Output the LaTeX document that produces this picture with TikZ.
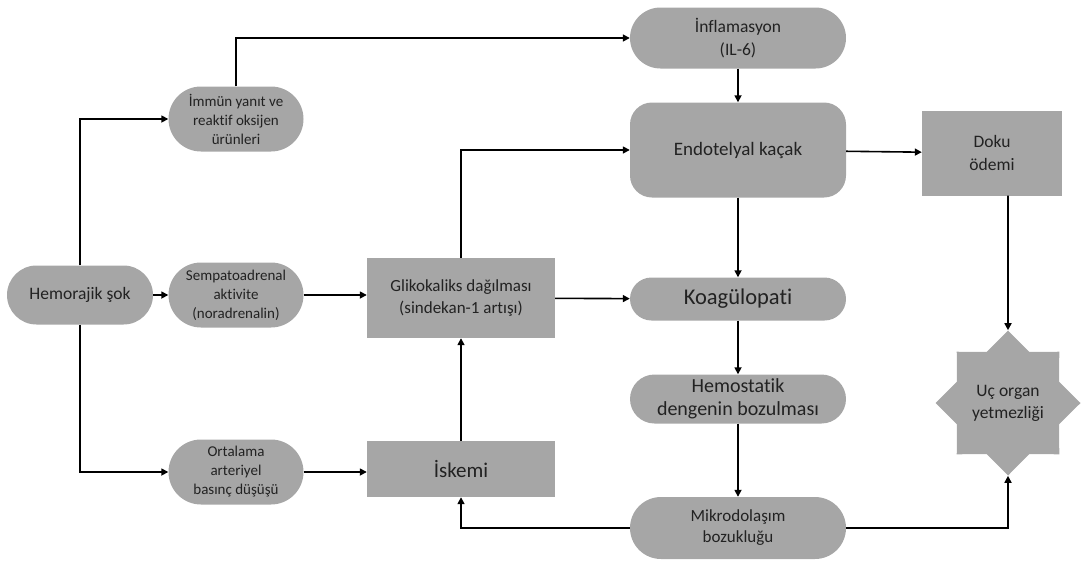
\documentclass[tikz,border=0pt]{standalone}
\usepackage{fontspec}
\setmainfont{Carlito}[Ligatures=NoCommon]
\usetikzlibrary{arrows.meta,shapes.geometric}
\definecolor{boxgray}{HTML}{A6A6A6}
\definecolor{txtgray}{HTML}{222222}
\begin{document}
\begin{tikzpicture}[x=1pt,y=-1pt,
 box/.style={fill=boxgray,text=txtgray,align=center,inner sep=0pt},
 pill/.style={box,rounded corners=#1pt,minimum height=2*#1pt},
 sml/.style={font=\fontsize{15}{19}\selectfont},
 med/.style={font=\fontsize{17.5}{23}\selectfont},
 big/.style={font=\fontsize{21}{25}\selectfont},
 arr/.style={line width=1.6pt,-{Triangle[length=7pt,width=7pt]}}]
\useasboundingbox(0,0)rectangle(1082,563);
\node[pill=29.5,minimum width=146pt,med](hemo)at(80,295){Hemorajik şok};
\node[pill=32.5,minimum width=135pt,sml](immun)at(236,119){İmmün yanıt ve\\reaktif oksijen\\ürünleri};
\node[pill=32.5,minimum width=135pt,sml](sempa)at(236,295){Sempatoadrenal\\aktivite\\(noradrenalin)};
\node[pill=32.5,minimum width=135pt,sml](ortal)at(236,472){Ortalama\\arteriyel\\basınç düşüşü};
\node[box,minimum width=188pt,minimum height=80pt,med,font=\fontsize{17}{22}\selectfont](gliko)at(461,298){Glikokaliks dağılması\\(sindekan-1 artışı)};
\node[box,minimum width=188pt,minimum height=56pt,big](iskemi)at(461,469){İskemi};
\node[pill=30.5,minimum width=216pt,med](inflam)at(738,38){İnflamasyon\\(IL-6)};
\node[box,rounded corners=22pt,minimum width=216pt,minimum height=95pt,med,font=\fontsize{19}{23}\selectfont](endo)at(738,150){Endotelyal kaçak};
\node[pill=21.5,minimum width=216pt,big,font=\fontsize{22.5}{26}\selectfont](koag)at(738,299){Koagülopati};
\node[pill=24.5,minimum width=216pt,big,font=\fontsize{20}{23}\selectfont](hemost)at(738,399){Hemostatik\\dengenin bozulması};
\node[pill=31,minimum width=216pt,med,font=\fontsize{17}{21}\selectfont](mikro)at(738,528){Mikrodolaşım\\bozukluğu};
\node[box,minimum width=140pt,minimum height=85pt,med](doku)at(992,153){Doku\\ödemi};
\node[box,star,star points=8,star point ratio=1.31,minimum size=145pt,med,font=\fontsize{17.5}{22}\selectfont](organ)at(1008,403){Uç organ\\yetmezliği};
\draw[arr](hemo.north)|-(immun.west);\draw[arr](hemo.south)|-(ortal.west);\draw[arr](hemo)--(sempa);
\draw[arr](immun.north)|-(inflam.west);\draw[arr](sempa)--(sempa-|gliko.west);\draw[arr](ortal)--(ortal-|iskemi.west);
\draw[arr](gliko.north)|-(endo.west);\draw[arr](gliko)--(koag);\draw[arr](iskemi)--(gliko);
\draw[arr](inflam)--(endo);\draw[arr](endo)--(koag);\draw[arr](koag)--(hemost);\draw[arr](hemost)--(mikro);
\draw[arr](endo)--(doku);\draw[arr](doku.south-|organ)--(organ.north);
\draw[arr](mikro.west)-|(iskemi.south);\draw[arr](mikro.east)-|(organ.south);
\end{tikzpicture}
\end{document}
